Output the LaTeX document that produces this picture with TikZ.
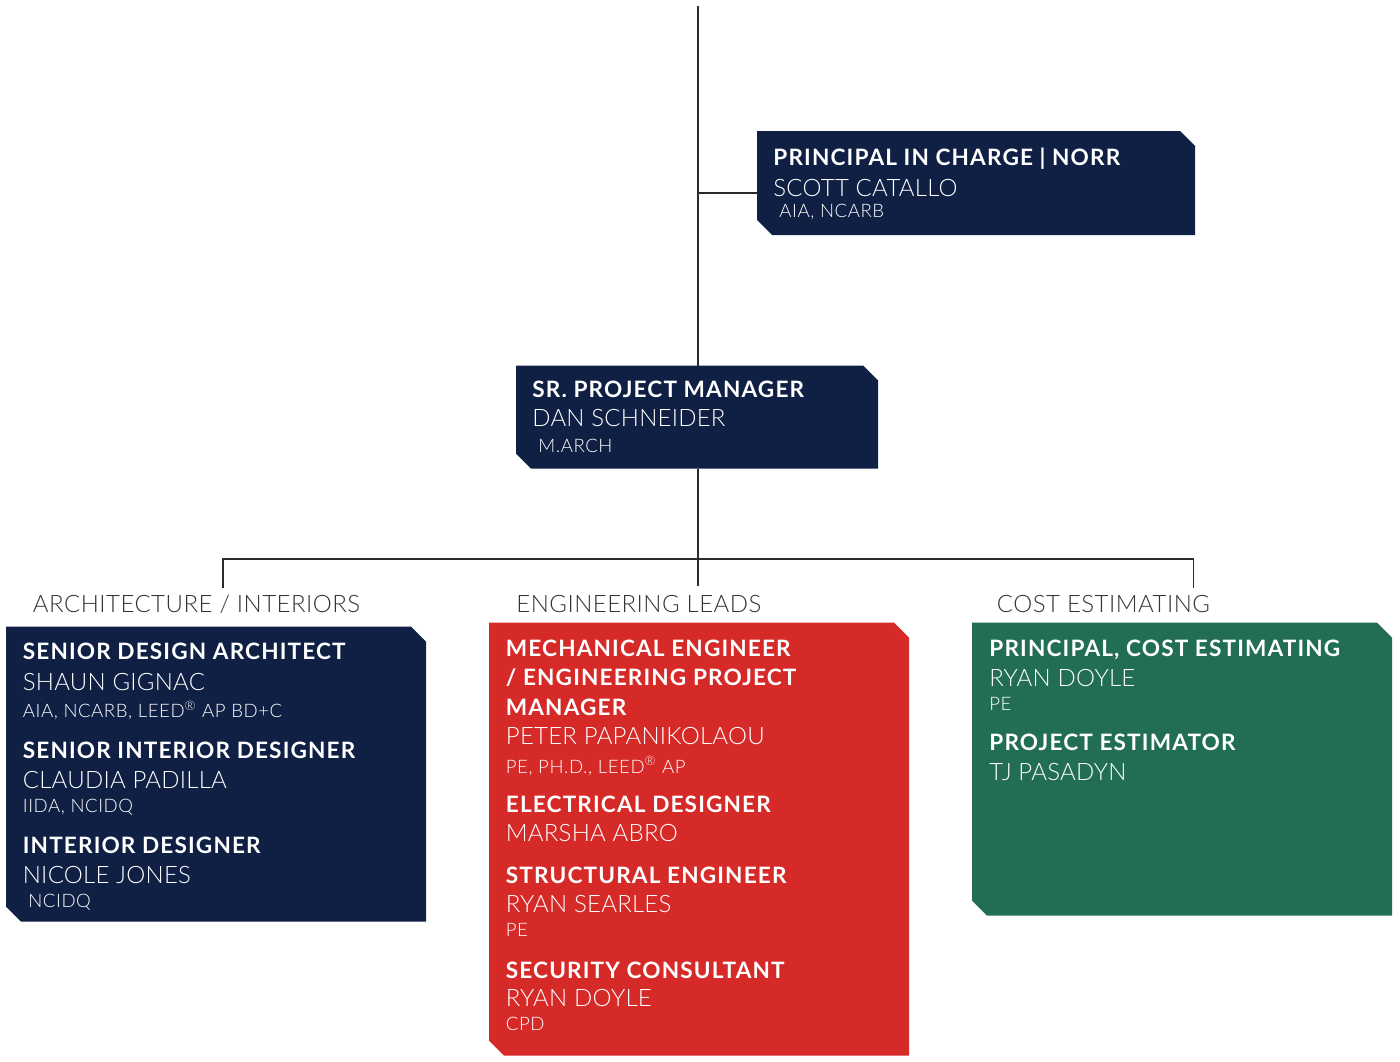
\documentclass[tikz,border=0pt]{standalone}
\usepackage{fontspec}
\IfFontExistsTF{Lato}{\setmainfont{Lato}}{\setmainfont{Liberation Sans}}
\IfFontExistsTF{Lato Light}{\newfontfamily\lightf{Lato Light}}{%
  \IfFontExistsTF{Fira Sans Light}{\newfontfamily\lightf{Fira Sans Light}}{\newfontfamily\lightf{Lato}}}
\definecolor{navy}{HTML}{0F2044}
\definecolor{redbox}{HTML}{D62A28}
\definecolor{greenbox}{HTML}{226E55}
\definecolor{linec}{HTML}{2B2B2B}
\definecolor{labelc}{HTML}{333333}
\tikzset{
  card/.style={rectangle, inner sep=0pt, outer sep=0pt, draw=none, anchor=north west},
  ttl/.style={anchor=base west, inner sep=0pt, text=white,
    font=\bfseries\fontsize{11.3}{12}\selectfont\addfontfeatures{LetterSpace=5}},
  nm/.style={anchor=base west, inner sep=0pt, text=white,
    font=\lightf\fontsize{12}{14}\selectfont\addfontfeatures{LetterSpace=1}},
  cred/.style={anchor=base west, inner sep=0pt, text=white,
    font=\lightf\fontsize{9.3}{11}\selectfont\addfontfeatures{LetterSpace=3}},
  grp/.style={anchor=base west, inner sep=0pt, text=labelc,
    font=\lightf\fontsize{12}{14}\selectfont\addfontfeatures{LetterSpace=2}},
  conn/.style={draw=linec, line width=0.8pt}
}
\newcommand{\reg}{\textsuperscript{\textregistered}}
\newcommand{\cardfill}[2]{%
  \fill[#2] (#1.north west) -- ([xshift=-7.5pt]#1.north east) -- ([yshift=-7.5pt]#1.north east)
    -- (#1.south east) -- ([xshift=7.5pt]#1.south west) -- ([yshift=7.5pt]#1.south west) -- cycle;}
\begin{document}
\begin{tikzpicture}[x=0.5pt,y=-0.5pt]
\useasboundingbox[fill=white] (0,0) rectangle (1400,1061);
% boxes
\node[card, minimum width=219pt, minimum height=52pt] (pic) at (757,131) {};
\node[card, minimum width=181pt, minimum height=51.5pt] (spm) at (516,365.5) {};
\node[card, minimum width=210pt, minimum height=147.5pt] (arch) at (6,626.5) {};
\node[card, minimum width=210pt, minimum height=216.5pt] (eng) at (489,622.7) {};
\node[card, minimum width=210pt, minimum height=146.5pt] (cost) at (972,622.7) {};
\cardfill{pic}{navy}
\cardfill{spm}{navy}
\cardfill{arch}{navy}
\cardfill{eng}{redbox}
\cardfill{cost}{greenbox}
% connectors
\coordinate (top) at (698,6);
\coordinate (pj) at (698,193);
\coordinate (hubend) at (698,586);
\coordinate (la) at (222.7,559);
\coordinate (lae) at (222.7,587.7);
\coordinate (ra) at (1193.5,559);
\coordinate (rae) at (1193.5,587.7);
\draw[conn] (top) -- (spm.north -| top);
\draw[conn] (pj) -- (pj -| pic.west);
\draw[conn] (spm.south -| top) -- (hubend);
\draw[conn] (lae) -- (la) -- (ra) -- (rae);
% principal
\node[ttl] (p1) at (773,165) {PRINCIPAL IN CHARGE | NORR};
\node[nm] (p2) at (773,196) {SCOTT CATALLO};
\node[cred] (p3) at (779,217.5) {AIA, NCARB};
% sr pm
\node[ttl] (s1) at (532,397.5) {SR. PROJECT MANAGER};
\node[nm] (s2) at (532,426) {DAN SCHNEIDER};
\node[cred] (s3) at (538,452) {M.ARCH};
% group labels
\node[grp] (g1) at (32.5,612.7) {ARCHITECTURE / INTERIORS};
\node[grp] (g2) at (516,612.7) {ENGINEERING LEADS};
\node[grp] (g3) at (996.5,612.7) {COST ESTIMATING};
% architecture
\node[ttl] (a1) at (22.5,659.5) {SENIOR DESIGN ARCHITECT};
\node[nm] (a2) at (22.5,690) {SHAUN GIGNAC};
\node[cred] (a3) at (22.5,717.7) {AIA, NCARB, LEED\reg{} AP BD+C};
\node[ttl] (a4) at (22.5,758.5) {SENIOR INTERIOR DESIGNER};
\node[nm] (a5) at (22.5,788.5) {CLAUDIA PADILLA};
\node[cred] (a6) at (22.5,812.7) {IIDA, NCIDQ};
\node[ttl] (a7) at (22.5,853.5) {INTERIOR DESIGNER};
\node[nm] (a8) at (22.5,883.5) {NICOLE JONES};
\node[cred] (a9) at (28,907.3) {NCIDQ};
% engineering
\node[ttl] (e1) at (505.5,656.7) {MECHANICAL ENGINEER};
\node[ttl] (e2) at (505.5,685.7) {/ ENGINEERING PROJECT};
\node[ttl] (e3) at (505.5,715) {MANAGER};
\node[nm] (e4) at (505.5,744) {PETER PAPANIKOLAOU};
\node[cred] (e5) at (505.5,773.3) {PE, PH.D., LEED\reg{} AP};
\node[ttl] (e6) at (505.5,812.7) {ELECTRICAL DESIGNER};
\node[nm] (e7) at (505.5,841.7) {MARSHA ABRO};
\node[ttl] (e8) at (505.5,883.3) {STRUCTURAL ENGINEER};
\node[nm] (e9) at (505.5,912.7) {RYAN SEARLES};
\node[cred] (e10) at (505.5,936.7) {PE};
\node[ttl] (e11) at (505.5,978.3) {SECURITY CONSULTANT};
\node[nm] (e12) at (505.5,1006.7) {RYAN DOYLE};
\node[cred] (e13) at (505.5,1030.7) {CPD};
% cost
\node[ttl] (c1) at (989,656.7) {PRINCIPAL, COST ESTIMATING};
\node[nm] (c2) at (989,686) {RYAN DOYLE};
\node[cred] (c3) at (989,710) {PE};
\node[ttl] (c4) at (989,750.7) {PROJECT ESTIMATOR};
\node[nm] (c5) at (989,780) {TJ PASADYN};
\end{tikzpicture}
\end{document}
